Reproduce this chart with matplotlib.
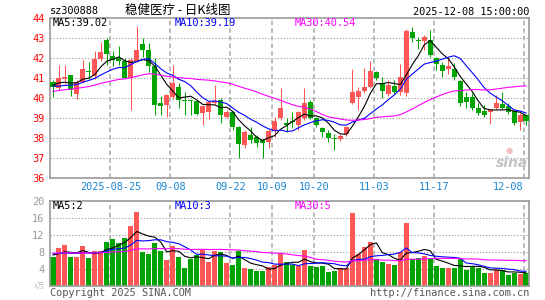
import matplotlib
matplotlib.use("Agg")
import matplotlib.pyplot as plt
from matplotlib.patches import Rectangle
import numpy as np
import pandas as pd

# Daily K-line, 2025-08-11 .. 2025-12-08 (80 sessions)
opens = [40.80, 40.47, 40.95, 41.13, 40.20, 40.80, 41.35, 41.10, 41.95, 42.88,
         42.10, 42.00, 41.85, 40.97, 41.82, 42.70, 42.40, 41.60, 39.73, 39.63,
         40.05, 40.55, 39.87, 39.88, 39.85, 39.25, 39.30, 39.72, 39.88, 39.05,
         39.30, 38.53, 37.65, 38.12, 38.05, 37.88, 37.80, 38.33, 39.00, 38.72,
         38.85, 38.63, 38.97, 39.80, 38.97, 38.47, 38.22, 37.98, 37.95, 38.17,
         39.72, 40.05, 40.33, 40.55, 41.27, 40.72, 40.17, 40.60, 40.30, 40.22,
         43.30, 42.85, 42.85, 42.88, 42.00, 41.63, 41.43, 41.43, 40.83, 40.05,
         40.05, 39.47, 39.33, 39.27, 39.50, 39.67, 39.60, 39.33, 38.77, 39.13]
highs = [40.88, 41.63, 41.63, 41.15, 40.90, 41.88, 41.80, 42.35, 42.80, 42.97,
         42.35, 42.60, 42.00, 41.97, 43.58, 43.00, 42.75, 42.00, 40.10, 40.20,
         41.63, 40.72, 40.28, 39.90, 39.90, 39.65, 39.80, 40.63, 40.00, 39.38,
         39.35, 38.60, 38.37, 38.53, 38.13, 37.95, 38.45, 39.05, 40.50, 38.97,
         39.30, 39.35, 40.47, 39.88, 39.05, 38.55, 38.38, 38.20, 38.20, 38.60,
         41.45, 40.55, 41.47, 41.83, 41.33, 41.05, 40.88, 40.90, 41.70, 43.43,
         43.55, 43.05, 43.13, 43.38, 42.05, 41.80, 42.05, 41.72, 40.88, 40.30,
         40.22, 39.72, 39.63, 39.42, 40.13, 40.30, 39.72, 39.40, 39.22, 39.20]
lows = [40.05, 40.38, 40.70, 40.10, 39.95, 40.72, 40.95, 40.95, 41.85, 41.65,
        41.60, 41.63, 40.97, 39.38, 41.80, 42.05, 41.30, 39.12, 39.12, 39.03,
        39.95, 39.50, 39.12, 39.13, 39.12, 38.62, 38.95, 39.70, 38.75, 39.00,
        38.40, 36.97, 37.50, 37.75, 37.55, 37.00, 37.50, 38.05, 38.90, 38.30,
        38.47, 38.38, 38.90, 38.93, 38.55, 38.05, 37.80, 37.38, 37.85, 38.10,
        39.70, 39.38, 40.25, 40.50, 40.90, 39.97, 40.10, 40.20, 40.13, 40.10,
        42.80, 42.43, 42.40, 42.05, 41.38, 41.05, 41.17, 40.88, 39.60, 39.50,
        39.38, 39.13, 39.05, 38.67, 39.45, 39.43, 39.20, 38.63, 38.38, 38.63]
closes = [40.55, 40.97, 41.05, 40.38, 40.80, 41.42, 41.27, 41.95, 42.30, 42.20,
          41.90, 41.85, 40.97, 41.90, 42.40, 42.40, 41.60, 39.62, 39.60, 40.12,
          40.72, 39.88, 39.83, 39.83, 39.20, 39.60, 39.77, 39.82, 39.13, 39.30,
          38.55, 37.70, 38.28, 37.88, 37.72, 37.75, 38.33, 38.83, 39.47, 38.63,
          38.78, 39.30, 39.72, 39.00, 38.65, 38.27, 38.00, 37.93, 38.10, 38.55,
          40.30, 40.33, 40.55, 41.33, 40.97, 40.33, 40.63, 40.30, 41.05, 43.33,
          42.97, 42.82, 43.05, 42.13, 41.67, 41.33, 41.58, 41.05, 39.72, 39.77,
          39.47, 39.22, 39.13, 39.38, 39.72, 39.50, 39.30, 38.72, 39.13, 38.83]
volumes = [6.8, 8.9, 9.6, 6.8, 6.8, 9.3, 6.6, 8.2, 8.2, 10.4,
           11.0, 10.0, 11.3, 14.1, 17.4, 8.0, 7.5, 10.1, 8.2, 6.0,
           9.4, 6.8, 4.2, 6.4, 7.2, 8.4, 5.6, 8.2, 8.0, 5.4,
           4.9, 8.2, 4.2, 3.9, 3.5, 3.5, 4.5, 4.8, 7.7, 5.6,
           4.9, 4.6, 8.5, 4.6, 4.3, 4.6, 3.3, 3.5, 4.2, 4.2,
           17.2, 7.5, 9.0, 10.4, 6.4, 5.6, 5.1, 4.9, 8.0, 14.8,
           6.2, 6.6, 7.0, 6.6, 4.6, 4.2, 4.2, 4.2, 6.2, 3.7,
           4.5, 4.2, 3.1, 3.1, 3.7, 3.8, 2.5, 3.1, 2.7, 3.1]

# sessions before the window, only used so the moving averages start where the chart does
prior_close = [39.6, 39.8, 39.5, 39.7, 40.0, 39.9, 39.7, 39.8, 40.1, 40.0,
               39.9, 40.2, 40.1, 40.3, 40.2, 40.0, 40.1, 41.2, 41.8, 41.6,
               41.1, 40.6, 40.3, 40.5, 40.2, 40.4, 40.9, 40.6, 40.7]
prior_volume = [6.8, 7.3, 8.5, 8.1, 7.2, 7.8, 8.3, 7.5, 7.1, 7.9,
                8.7, 8.2, 7.4, 6.9, 7.6, 8.4, 8.0, 7.2, 7.7, 7.3,
                8.1, 8.5, 7.5, 7.0, 7.8, 7.2, 7.4, 7.6, 7.1]

date_idx = [10, 20, 30, 37, 44, 54, 64, 79]
date_labels = ['2025-08-25', '09-08', '09-22', '10-09', '10-20', '11-03', '11-17', '12-08']
price_ticks = [36, 37, 38, 39, 40, 41, 42, 43, 44]
vol_ticks = [4, 8, 12, 16, 20]

RED = '#ff5656'
GREEN = '#00a400'
GRID = '#a8a8a8'
FRAME = '#9a9a9a'
MONO = 'DejaVu Sans Mono'
W, H = 545, 300

def ma(prior, values, n):
    s = pd.Series(prior + values)
    return s.rolling(n).mean().to_numpy()[len(prior):]

def px(x, y):
    return x / W, 1 - y / H

n = len(closes)
x = np.arange(n)
up = [c >= o for o, c in zip(opens, closes)]
colors = [RED if u else GREEN for u in up]

fig = plt.figure(figsize=(W / 100, H / 100), dpi=100)
ax1 = fig.add_axes([50 / W, 1 - 177.7 / H, 479 / W, 160 / H])
ax2 = fig.add_axes([50 / W, 1 - 285.7 / H, 479 / W, 85 / H])

for ax in (ax1, ax2):
    ax.set_xlim(-0.5, 79.5)
    for sp in ax.spines.values():
        sp.set_color(FRAME)
        sp.set_linewidth(1.2)
    ax.set_xticks([])
    ax.tick_params(axis='y', length=0, pad=4)
    for d in date_idx:
        ax.axvline(d - 0.4, color=GRID, lw=1.1, dashes=(3, 2), zorder=0)

# price panel
ax1.set_ylim(36, 44)
ax1.set_yticks(price_ticks)
ax1.set_yticklabels([str(t) for t in price_ticks], color='red', fontsize=7.4, family=MONO)
for t in price_ticks[1:-1]:
    ax1.axhline(t, color=GRID, lw=0.8, linestyle=(0, (1.2, 1.6)), zorder=0)

for i in range(n):
    ax1.vlines(i, lows[i], highs[i], color=colors[i], lw=0.75, zorder=2)
    lo, hi = sorted((opens[i], closes[i]))
    ax1.add_patch(Rectangle((i - 0.42, lo), 0.84, max(hi - lo, 0.05),
                            facecolor=colors[i], edgecolor='none', zorder=3))

ax1.plot(x, ma(prior_close, closes, 5), color='black', lw=0.8, zorder=4)
ax1.plot(x, ma(prior_close, closes, 10), color='#0000ff', lw=0.8, zorder=4)
ax1.plot(x, ma(prior_close, closes, 30), color='#ff00ff', lw=0.8, zorder=4)

for d, lab in zip(date_idx, date_labels):
    ha = 'right' if d == date_idx[-1] else 'center'
    ax1.text(d - 0.4, -0.06, lab, transform=ax1.get_xaxis_transform(), ha=ha, va='center',
             color='#1a86d0', fontsize=7.4, family=MONO)

# volume panel
ax2.set_ylim(0, 20)
ax2.set_yticks(vol_ticks)
ax2.set_yticklabels([str(t) for t in vol_ticks], color='#999999', fontsize=7.4, family=MONO)
for t in vol_ticks[:-1]:
    ax2.axhline(t, color=GRID, lw=0.8, linestyle=(0, (1.2, 1.6)), zorder=0)
ax2.bar(x, volumes, width=0.84, color=colors, linewidth=0, zorder=2)
ax2.plot(x, ma(prior_volume, volumes, 5), color='black', lw=0.8, zorder=4)
ax2.plot(x, ma(prior_volume, volumes, 10), color='#0000ff', lw=0.8, zorder=4)
ax2.plot(x, ma(prior_volume, volumes, 30), color='#ff00ff', lw=0.8, zorder=4)

# header and legend texts
fig.text(*px(50, 11), 'sz300888', family=MONO, fontsize=7.4, va='center', ha='left')
fig.text(*px(178, 10), '稳健医疗 - 日K线图', family=['Noto Sans CJK SC', 'DejaVu Sans'],
         fontsize=9, va='center', ha='center')
fig.text(*px(529, 12), '2025-12-08 15:00:00', family=MONO, fontsize=7.4, va='center', ha='right')

fig.text(*px(53, 23.5), 'MA5:39.02', family=MONO, fontsize=7.4, va='center', color='black')
fig.text(*px(175, 23.5), 'MA10:39.19', family=MONO, fontsize=7.4, va='center', color='#0000ff')
fig.text(*px(295, 23.5), 'MA30:40.54', family=MONO, fontsize=7.4, va='center', color='#ff00ff')
fig.text(*px(53, 206), 'MA5:2', family=MONO, fontsize=7.4, va='center', color='black')
fig.text(*px(175, 206), 'MA10:3', family=MONO, fontsize=7.4, va='center', color='#0000ff')
fig.text(*px(295, 206), 'MA30:5', family=MONO, fontsize=7.4, va='center', color='#ff00ff')

fig.text(*px(45, 287), 'x万', family=['Noto Sans CJK SC', 'DejaVu Sans'], fontsize=5.5,
         va='center', ha='right', color='#bbbbbb')
fig.text(*px(50, 292.5), 'Copyright 2025 SINA.COM', family=MONO, fontsize=7.4,
         va='center', ha='left', color='#555555')
fig.text(*px(529, 292.5), 'http://finance.sina.com.cn', family=MONO, fontsize=7.4,
         va='center', ha='right', color='#555555')

# sina watermark
fig.text(*px(512, 163), 'sina', fontsize=10, style='italic', weight='bold',
         color='#c4c4c4', va='center', ha='center')
fig.text(*px(509, 151), '●', fontsize=6, color='#f4c0c0', va='center', ha='center')

fig.savefig('out.png', dpi=100, facecolor='white')
